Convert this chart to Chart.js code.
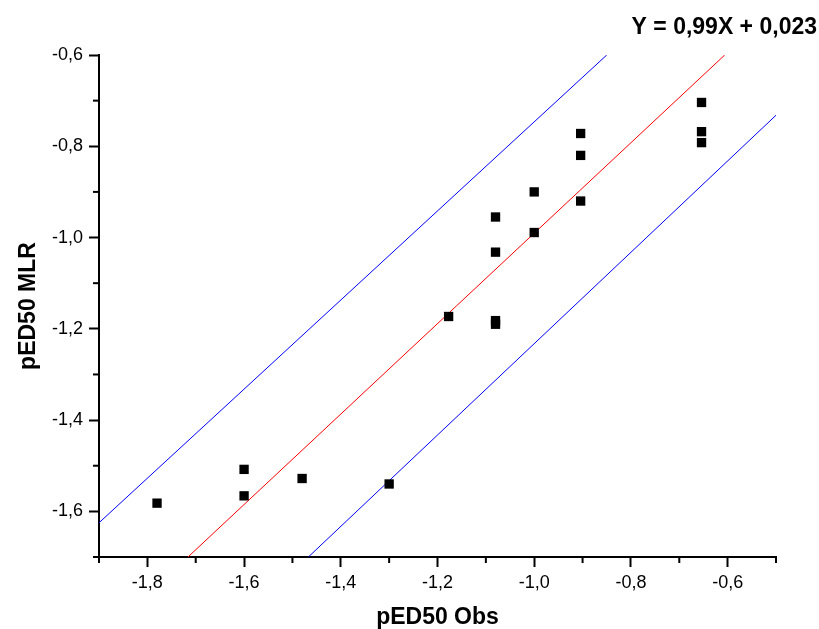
<!DOCTYPE html>
<html>
<head>
<meta charset="utf-8">
<script src="https://cdn.jsdelivr.net/npm/chart.js@4/dist/chart.umd.min.js"></script>
<style>
  html, body { margin: 0; padding: 0; background: #ffffff; }
  #wrap { width: 819px; height: 629px; }
</style>
</head>
<body>
<div id="wrap"><canvas id="c" width="819" height="629"></canvas></div>
<script>
// Observed values (x) and MLR predicted values (y)
const obsX = [-1.78, -1.60, -1.60, -1.48, -1.30, -1.177, -1.08, -1.08, -1.08, -1.08, -1.00, -1.00, -0.904, -0.904, -0.904, -0.654, -0.654, -0.654];
const mlrY = [-1.582, -1.508, -1.566, -1.528, -1.540, -1.173, -0.955, -1.032, -1.182, -1.190, -0.900, -0.989, -0.772, -0.820, -0.920, -0.704, -0.768, -0.792];

// Regression line and confidence band end points
const fitX = [-1.716, -0.606];
const fitY = [-1.70, -0.60];
const upperX = [-1.90, -0.850];
const upperY = [-1.625, -0.60];
const lowerX = [-1.467, -0.50];
const lowerY = [-1.70, -0.732];

const xMin = -1.9, xMax = -0.5, yMin = -1.7, yMax = -0.6, step = 0.1;
const equation = 'Y = 0,99X + 0,023';
const xTitle = 'pED50 Obs';
const yTitle = 'pED50 MLR';

const toPts = (xs, ys) => xs.map((x, i) => ({ x: x, y: ys[i] }));
const isMajor = v => Math.round(v * 10) % 2 === 0;
const fmt = v => isMajor(v) ? v.toFixed(1).replace('.', ',') : '';

const FONT = "'Liberation Sans', Arial, sans-serif";

const minorTicks = {
  id: 'minorTicks',
  afterDraw(chart) {
    const ctx = chart.ctx;
    ctx.save();
    ctx.strokeStyle = '#000';
    ctx.lineWidth = 2;
    const xs = chart.scales.x, ys = chart.scales.y;
    xs.ticks.forEach(t => {
      if (!isMajor(t.value)) {
        const px = xs.getPixelForValue(t.value);
        ctx.beginPath(); ctx.moveTo(px, xs.top); ctx.lineTo(px, xs.top + 6); ctx.stroke();
      }
    });
    ys.ticks.forEach(t => {
      if (!isMajor(t.value)) {
        const py = ys.getPixelForValue(t.value);
        ctx.beginPath(); ctx.moveTo(ys.right, py); ctx.lineTo(ys.right - 6, py); ctx.stroke();
      }
    });
    ctx.restore();
  }
};

const equationText = {
  id: 'equationText',
  afterDraw(chart) {
    const ctx = chart.ctx;
    ctx.save();
    ctx.fillStyle = '#000';
    ctx.font = 'bold 23px ' + FONT;
    ctx.textAlign = 'right';
    ctx.textBaseline = 'alphabetic';
    ctx.fillText(equation, 817, 34);
    ctx.restore();
  }
};

new Chart(document.getElementById('c'), {
  type: 'scatter',
  data: {
    datasets: [
      { label: 'data', data: toPts(obsX, mlrY), backgroundColor: '#000', borderWidth: 0,
        pointStyle: 'rect', pointRadius: 6.6, pointHoverRadius: 6.6 },
      { type: 'line', label: 'fit', data: toPts(fitX, fitY), borderColor: '#ff0000', borderWidth: 1,
        pointRadius: 0, fill: false },
      { type: 'line', label: 'upper', data: toPts(upperX, upperY), borderColor: '#0000ff', borderWidth: 1,
        pointRadius: 0, fill: false },
      { type: 'line', label: 'lower', data: toPts(lowerX, lowerY), borderColor: '#0000ff', borderWidth: 1,
        pointRadius: 0, fill: false }
    ]
  },
  options: {
    responsive: false,
    animation: false,
    layout: { padding: { left: 0, right: 43, top: 55, bottom: 0 } },
    plugins: { legend: { display: false }, tooltip: { enabled: false }, title: { display: false } },
    scales: {
      x: {
        type: 'linear', min: xMin, max: xMax,
        afterFit: s => { s.height = 72; },
        border: { display: true, color: '#000', width: 2 },
        grid: { drawOnChartArea: false, tickLength: 10, tickWidth: 2,
                tickColor: c => (c.tick && isMajor(c.tick.value)) ? '#000' : 'rgba(0,0,0,0)' },
        ticks: { stepSize: step, autoSkip: false, maxRotation: 0, padding: 5, color: '#000',
                 font: { family: FONT, size: 18 }, callback: v => fmt(v) },
        title: { display: true, text: xTitle, color: '#000', padding: { top: 0, bottom: 0 },
                 font: { family: FONT, size: 23, weight: 'bold', lineHeight: 1 } }
      },
      y: {
        type: 'linear', min: yMin, max: yMax,
        afterFit: s => { s.width = 99; },
        border: { display: true, color: '#000', width: 2 },
        grid: { drawOnChartArea: false, tickLength: 10, tickWidth: 2,
                tickColor: c => (c.tick && isMajor(c.tick.value)) ? '#000' : 'rgba(0,0,0,0)' },
        ticks: { stepSize: step, autoSkip: false, padding: 6, color: '#000',
                 font: { family: FONT, size: 18 }, callback: v => fmt(v) },
        title: { display: true, text: yTitle, color: '#000', padding: { top: 17, bottom: 0 },
                 font: { family: FONT, size: 23, weight: 'bold', lineHeight: 1 } }
      }
    }
  },
  plugins: [minorTicks, equationText]
});
</script>
</body>
</html>
